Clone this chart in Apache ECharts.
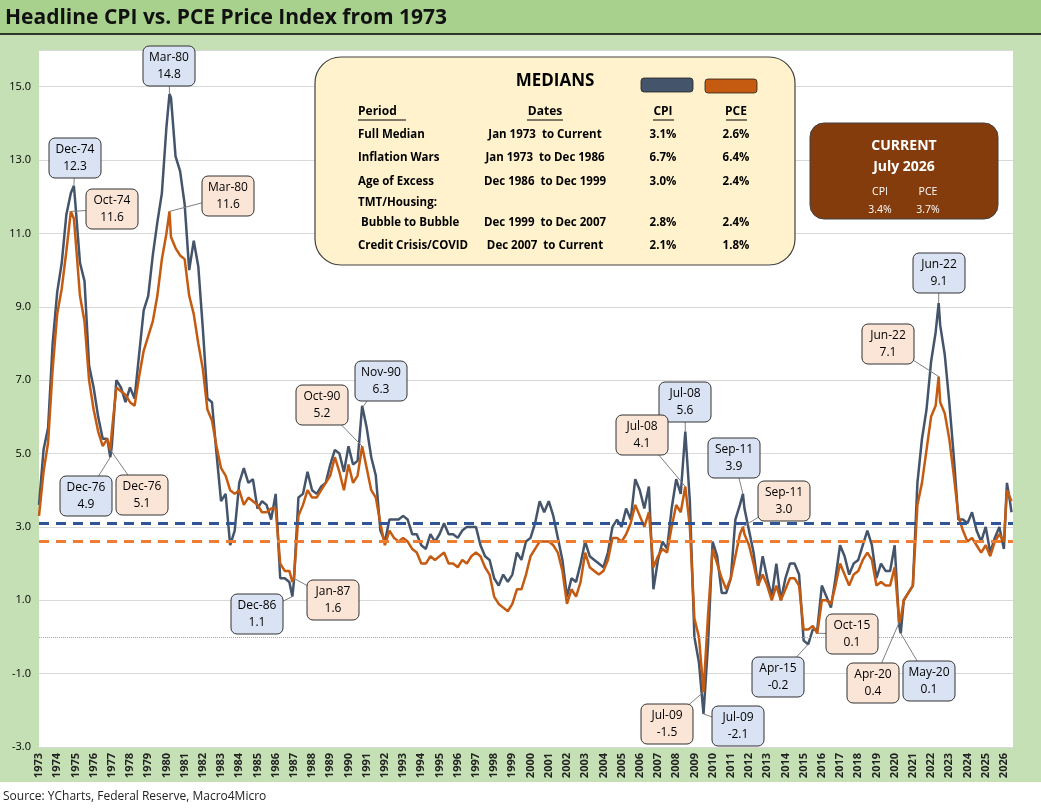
<!DOCTYPE html>
<html>
<head>
<meta charset="utf-8">
<script src="https://cdn.jsdelivr.net/npm/echarts@6/dist/echarts.min.js"></script>
<style>
  html, body { margin: 0; padding: 0; background: #fff; }
  #chart { width: 1041px; height: 809px; }
</style>
</head>
<body>
<div id="chart"></div>
<script>
const dates = [
  '1973-01','1973-04','1973-07','1973-10',
  '1974-01','1974-04','1974-07','1974-10','1974-12',
  '1975-01','1975-04','1975-07','1975-10',
  '1976-01','1976-04','1976-07','1976-10','1976-12',
  '1977-01','1977-04','1977-07','1977-10',
  '1978-01','1978-04','1978-07','1978-10',
  '1979-01','1979-04','1979-07','1979-10',
  '1980-01','1980-03','1980-04','1980-07','1980-10',
  '1981-01','1981-04','1981-07','1981-10',
  '1982-01','1982-04','1982-07','1982-10',
  '1983-01','1983-04','1983-07','1983-10',
  '1984-01','1984-04','1984-07','1984-10',
  '1985-01','1985-04','1985-07','1985-10',
  '1986-01','1986-04','1986-07','1986-10','1986-12',
  '1987-01','1987-04','1987-07','1987-10',
  '1988-01','1988-04','1988-07','1988-10',
  '1989-01','1989-04','1989-07','1989-10',
  '1990-01','1990-04','1990-07','1990-10','1990-11',
  '1991-01','1991-04','1991-07','1991-10',
  '1992-01','1992-04','1992-07','1992-10',
  '1993-01','1993-04','1993-07','1993-10',
  '1994-01','1994-04','1994-07','1994-10',
  '1995-01','1995-04','1995-07','1995-10',
  '1996-01','1996-04','1996-07','1996-10',
  '1997-01','1997-04','1997-07','1997-10',
  '1998-01','1998-04','1998-07','1998-10',
  '1999-01','1999-04','1999-07','1999-10',
  '2000-01','2000-04','2000-07','2000-10',
  '2001-01','2001-04','2001-07','2001-10',
  '2002-01','2002-04','2002-07','2002-10',
  '2003-01','2003-04','2003-07','2003-10',
  '2004-01','2004-04','2004-07','2004-10',
  '2005-01','2005-04','2005-07','2005-10',
  '2006-01','2006-04','2006-07','2006-10',
  '2007-01','2007-04','2007-07','2007-10',
  '2008-01','2008-04','2008-07','2008-10',
  '2009-01','2009-04','2009-07','2009-10',
  '2010-01','2010-04','2010-07','2010-10',
  '2011-01','2011-04','2011-07','2011-09','2011-10',
  '2012-01','2012-04','2012-07','2012-10',
  '2013-01','2013-04','2013-07','2013-10',
  '2014-01','2014-04','2014-07','2014-10',
  '2015-01','2015-04','2015-07','2015-10',
  '2016-01','2016-04','2016-07','2016-10',
  '2017-01','2017-04','2017-07','2017-10',
  '2018-01','2018-04','2018-07','2018-10',
  '2019-01','2019-04','2019-07','2019-10',
  '2020-01','2020-04','2020-05','2020-07','2020-10',
  '2021-01','2021-04','2021-07','2021-10',
  '2022-01','2022-04','2022-06','2022-07','2022-10',
  '2023-01','2023-04','2023-07','2023-10',
  '2024-01','2024-04','2024-07','2024-10',
  '2025-01','2025-04','2025-07','2025-10',
  '2026-01','2026-03','2026-05','2026-06'
];
const cpi = [
  3.6,5.1,5.7,8.0,
  9.4,10.2,11.5,12.1,12.3,
  11.8,10.2,9.7,7.4,
  6.8,6.0,5.4,5.4,4.9,
  5.2,7.0,6.8,6.4,
  6.8,6.5,7.7,8.9,
  9.3,10.4,11.3,12.1,
  13.9,14.8,14.7,13.1,12.7,
  11.8,10.0,10.8,10.1,
  8.4,6.5,6.4,5.0,
  3.7,3.9,2.5,2.9,
  4.2,4.6,4.2,4.3,
  3.5,3.7,3.6,3.2,
  3.9,1.6,1.6,1.5,1.1,
  1.5,3.8,3.9,4.5,
  4.0,3.9,4.1,4.2,
  4.7,5.1,5.0,4.5,
  5.2,4.7,4.8,6.3,6.3,
  5.7,4.9,4.4,2.9,
  2.6,3.2,3.2,3.2,
  3.3,3.2,2.8,2.8,
  2.5,2.4,2.8,2.6,
  2.8,3.1,2.8,2.8,
  2.7,2.9,3.0,3.0,
  3.0,2.5,2.2,2.1,
  1.6,1.4,1.7,1.5,
  1.7,2.3,2.1,2.6,
  2.7,3.1,3.7,3.4,
  3.7,3.3,2.7,2.1,
  1.1,1.6,1.5,2.0,
  2.6,2.2,2.1,2.0,
  1.9,2.3,3.0,3.2,
  3.0,3.5,3.2,4.3,
  4.0,3.5,4.1,1.3,
  2.1,2.6,2.4,3.5,
  4.3,3.9,5.6,3.7,
  0.0,-0.7,-2.1,-0.2,
  2.6,2.2,1.2,1.2,
  1.6,3.2,3.6,3.9,3.5,
  2.9,2.3,1.4,2.2,
  1.6,1.1,2.0,1.0,
  1.6,2.0,2.0,1.7,
  -0.1,-0.2,0.2,0.2,
  1.4,1.1,0.8,1.6,
  2.5,2.2,1.7,2.0,
  2.1,2.5,2.9,2.5,
  1.6,2.0,1.8,1.8,
  2.5,0.3,0.1,1.0,1.2,
  1.4,4.2,5.4,6.2,
  7.5,8.3,9.1,8.5,7.7,
  6.4,4.9,3.2,3.2,
  3.1,3.4,2.9,2.6,
  3.0,2.3,2.7,3.0,
  2.4,4.2,3.7,3.4
];
const pce = [
  3.3,4.5,5.3,7.3,
  8.8,9.5,10.5,11.6,11.4,
  10.9,9.3,8.6,7.0,
  6.2,5.6,5.2,5.4,5.1,
  5.6,6.8,6.7,6.6,
  6.4,6.3,7.1,7.8,
  8.2,8.6,9.3,10.3,
  11.0,11.6,10.9,10.6,10.4,
  10.3,9.3,8.8,8.0,
  7.3,6.2,5.9,5.2,
  4.6,4.4,4.0,3.9,
  4.0,3.6,3.8,3.7,
  3.6,3.4,3.4,3.5,
  3.5,2.0,1.8,1.8,1.5,
  1.6,3.3,3.6,4.0,
  3.8,3.8,4.0,4.2,
  4.4,4.9,4.5,4.0,
  4.7,4.2,4.4,5.2,5.0,
  4.6,4.0,3.8,3.1,
  2.5,2.9,2.7,2.6,
  2.7,2.6,2.4,2.3,
  2.0,2.0,2.2,2.1,
  2.2,2.3,2.0,2.0,
  1.9,2.1,2.0,2.2,
  2.3,2.2,1.9,1.7,
  1.1,0.9,0.8,0.7,
  0.9,1.3,1.3,1.7,
  2.2,2.4,2.6,2.6,
  2.6,2.5,2.3,1.8,
  0.9,1.3,1.1,1.5,
  2.3,1.9,1.8,1.7,
  1.8,2.1,2.7,2.7,
  2.6,2.8,3.1,3.6,
  3.3,3.0,3.4,1.9,
  2.2,2.4,2.3,3.0,
  3.6,3.4,4.1,3.0,
  0.5,0.0,-1.5,0.6,
  2.4,2.0,1.6,1.3,
  1.6,2.2,2.8,3.0,2.8,
  2.5,2.0,1.4,1.7,
  1.4,1.0,1.4,1.0,
  1.3,1.6,1.6,1.4,
  0.2,0.2,0.3,0.1,
  1.0,1.0,0.9,1.4,
  2.0,1.7,1.4,1.7,
  1.8,2.1,2.3,2.1,
  1.4,1.5,1.4,1.4,
  1.9,0.4,0.5,1.0,1.2,
  1.4,3.6,4.2,5.1,
  6.0,6.3,7.1,6.4,6.1,
  5.4,4.4,3.3,2.9,
  2.6,2.7,2.5,2.3,
  2.5,2.2,2.6,2.8,
  2.6,4.0,3.8,3.7
];
const medianCpi = 3.1;
const medianPce = 2.6;

// callouts: label, series, date, value
const callouts = [
  ['Mar-80', 'cpi', '1980-03', 14.8],
  ['Dec-74', 'cpi', '1974-12', 12.3],
  ['Oct-74', 'pce', '1974-10', 11.6],
  ['Mar-80', 'pce', '1980-03', 11.6],
  ['Dec-76', 'cpi', '1976-12', 4.9],
  ['Dec-76', 'pce', '1976-12', 5.1],
  ['Dec-86', 'cpi', '1986-12', 1.1],
  ['Jan-87', 'pce', '1987-01', 1.6],
  ['Nov-90', 'cpi', '1990-11', 6.3],
  ['Oct-90', 'pce', '1990-10', 5.2],
  ['Jul-08', 'cpi', '2008-07', 5.6],
  ['Jul-08', 'pce', '2008-07', 4.1],
  ['Jul-09', 'pce', '2009-07', -1.5],
  ['Jul-09', 'cpi', '2009-07', -2.1],
  ['Sep-11', 'cpi', '2011-09', 3.9],
  ['Sep-11', 'pce', '2011-09', 3.0],
  ['Apr-15', 'cpi', '2015-04', -0.2],
  ['Oct-15', 'pce', '2015-10', 0.1],
  ['Apr-20', 'pce', '2020-04', 0.4],
  ['May-20', 'cpi', '2020-05', 0.1],
  ['Jun-22', 'cpi', '2022-06', 9.1],
  ['Jun-22', 'pce', '2022-06', 7.1]
];
// where each callout box sits (pixels)
const boxPos = [
  [169,66],[75,158],[112,209],[228,196],[86,496],[142,495],[257,614],[333,600],
  [381,381],[322,405],[685,402],[642,435],[667,724],[738,726],[734,458],[784,501],
  [778,677],[852,634],[873,683],[929,681],[939,273],[888,344]
];

const medianRows = [
  ['Full Median', 'Jan 1973  to Current', '3.1%', '2.6%'],
  ['Inflation Wars', 'Jan 1973  to Dec 1986', '6.7%', '6.4%'],
  ['Age of Excess', 'Dec 1986  to Dec 1999', '3.0%', '2.4%'],
  ['TMT/Housing:', '', '', ''],
  [' Bubble to Bubble', 'Dec 1999  to Dec 2007', '2.8%', '2.4%'],
  ['Credit Crisis/COVID', 'Dec 2007  to Current', '2.1%', '1.8%']
];

const CPI_COLOR = '#44546A';
const PCE_COLOR = '#C55A11';
const FONT = 'Open Sans';

function toYear(d) {
  const [y, m] = d.split('-').map(Number);
  return y + (m - 1) / 12;
}

const cpiData = dates.map((d, i) => [toYear(d), cpi[i]]);
const pceData = dates.map((d, i) => [toYear(d), pce[i]]);

const chart = echarts.init(document.getElementById('chart'));

chart.setOption({
  backgroundColor: '#C5E0B4',
  animation: false,
  textStyle: { fontFamily: FONT },
  grid: {
    left: 39, right: 28, top: 50, bottom: 62,
    show: true, backgroundColor: '#fff', borderWidth: 0
  },
  xAxis: {
    type: 'value', min: 1973, max: 2026.5, interval: 1,
    axisLine: { show: false }, axisTick: { show: false }, splitLine: { show: false },
    axisLabel: {
      rotate: 90, fontSize: 11, fontWeight: 'bold', color: '#222', margin: 6,
      showMaxLabel: false,
      formatter: v => String(Math.round(v))
    }
  },
  yAxis: {
    type: 'value', min: -3, max: 16, interval: 2,
    axisLine: { show: false }, axisTick: { show: false },
    splitLine: { lineStyle: { color: '#D9D9D9', width: 1 } },
    axisLabel: { fontSize: 11, color: '#000', showMaxLabel: false, formatter: v => v.toFixed(1) }
  },
  series: [
    {
      name: 'CPI', type: 'line', data: cpiData, showSymbol: false,
      lineStyle: { color: CPI_COLOR, width: 2.5 }, z: 3,
      markLine: {
        silent: true, symbol: 'none', label: { show: false },
        data: [
          { yAxis: medianCpi, lineStyle: { color: '#2F5597', type: [10, 7], width: 3 } },
          { yAxis: 0, lineStyle: { color: '#A6A6A6', type: 'dotted', width: 1 } }
        ]
      }
    },
    {
      name: 'PCE', type: 'line', data: pceData, showSymbol: false,
      lineStyle: { color: PCE_COLOR, width: 2.5 }, z: 4,
      markLine: {
        silent: true, symbol: 'none', label: { show: false },
        data: [{ yAxis: medianPce, lineStyle: { color: '#ED7D31', type: [10, 7], width: 3 } }]
      }
    }
  ]
});

function buildGraphics() {
  const g = [];
  // title bar
  g.push({ type: 'rect', shape: { x: 0, y: 0, width: 1041, height: 34 }, style: { fill: '#A9D18E' }, z: 10 });
  g.push({ type: 'line', shape: { x1: 0, y1: 34, x2: 1041, y2: 34 }, style: { stroke: '#000', lineWidth: 1.5 }, z: 10 });
  g.push({ type: 'text', x: 5, y: 18, style: { text: 'Headline CPI vs. PCE Price Index from 1973', fontFamily: FONT, fontSize: 21, fontWeight: 'bold', fill: '#111', verticalAlign: 'middle' }, z: 11 });
  // bottom white strip + source
  g.push({ type: 'rect', shape: { x: 0, y: 782, width: 1041, height: 27 }, style: { fill: '#fff' }, z: 10 });
  g.push({ type: 'text', x: 3, y: 797, style: { text: 'Source: YCharts, Federal Reserve, Macro4Micro', fontFamily: FONT, fontSize: 12, fill: '#222', verticalAlign: 'middle' }, z: 11 });

  // medians box
  const bx = 315, by = 57;
  g.push({ type: 'rect', shape: { x: bx, y: by, width: 480, height: 208, r: 26 }, style: { fill: '#FFF2CC', stroke: '#404040', lineWidth: 1.2 }, z: 20 });
  g.push({ type: 'text', x: bx + 240, y: by + 24, style: { text: 'MEDIANS', fontFamily: FONT, fontSize: 17, fontWeight: 'bold', fill: '#000', align: 'center', verticalAlign: 'middle' }, z: 21 });
  g.push({ type: 'rect', shape: { x: bx + 326, y: by + 21, width: 52, height: 14, r: 3 }, style: { fill: CPI_COLOR, stroke: '#222', lineWidth: 0.8 }, z: 21 });
  g.push({ type: 'rect', shape: { x: bx + 390, y: by + 22, width: 52, height: 14, r: 3 }, style: { fill: PCE_COLOR, stroke: '#222', lineWidth: 0.8 }, z: 21 });
  const cols = [bx + 43, bx + 230, bx + 348, bx + 421];
  const hdr = ['Period', 'Dates', 'CPI', 'PCE'];
  hdr.forEach((h, i) => {
    g.push({ type: 'text', x: cols[i], y: by + 55, style: { text: h, fontFamily: FONT, fontSize: 12, fontWeight: 'bold', fill: '#000', align: i === 0 ? 'left' : 'center', verticalAlign: 'middle' }, z: 21 });
  });
  // underline headers
  [[bx + 43, 48], [bx + 212, 36], [bx + 338, 21], [bx + 411, 21]].forEach(([x, w]) => {
    g.push({ type: 'line', shape: { x1: x, y1: by + 63, x2: x + w, y2: by + 63 }, style: { stroke: '#000', lineWidth: 1 }, z: 21 });
  });
  const rowY = [78, 101, 125, 146, 166, 189];
  medianRows.forEach((r, k) => {
    r.forEach((t, i) => {
      if (!t) return;
      g.push({ type: 'text', x: cols[i], y: by + rowY[k], style: { text: t, fontFamily: FONT, fontSize: 11.5, fontWeight: 'bold', fill: '#000', align: i === 0 ? 'left' : 'center', verticalAlign: 'middle' }, z: 21 });
    });
  });

  // current box
  g.push({ type: 'rect', shape: { x: 810, y: 123, width: 188, height: 96, r: 14 }, style: { fill: '#843C0C', stroke: '#404040', lineWidth: 1 }, z: 20 });
  const cur = [['CURRENT', 904, 146, 14], ['July 2026', 904, 167, 14], ['CPI', 880, 192, 10.5], ['PCE', 928, 192, 10.5], ['3.4%', 880, 210, 10.5], ['3.7%', 928, 210, 10.5]];
  cur.forEach(([t, x, y, s]) => {
    g.push({ type: 'text', x, y, style: { text: t, fontFamily: FONT, fontSize: s, fontWeight: s > 12 ? 'bold' : 'normal', fill: '#fff', align: 'center', verticalAlign: 'middle' }, z: 21 });
  });

  // callouts
  callouts.forEach(([lab, ser, d, v], i) => {
    const p = chart.convertToPixel({ gridIndex: 0 }, [toYear(d), v]);
    const [cx, cy] = boxPos[i];
    const w = 52, h = 40;
    g.push({ type: 'line', shape: { x1: cx, y1: cy, x2: p[0], y2: p[1] }, style: { stroke: '#7F7F7F', lineWidth: 1 }, z: 15 });
    g.push({ type: 'rect', shape: { x: cx - w / 2, y: cy - h / 2, width: w, height: h, r: 6 }, style: { fill: ser === 'cpi' ? '#DAE3F3' : '#FBE5D6', stroke: '#333', lineWidth: 1 }, z: 16 });
    g.push({ type: 'text', x: cx, y: cy, style: { text: lab + '\n' + v.toFixed(1), fontFamily: FONT, fontSize: 12, lineHeight: 17, fill: '#000', align: 'center', verticalAlign: 'middle' }, z: 17 });
  });
  return g;
}

chart.setOption({ graphic: buildGraphics() });
window.addEventListener('resize', chart.resize);
</script>
</body>
</html>
